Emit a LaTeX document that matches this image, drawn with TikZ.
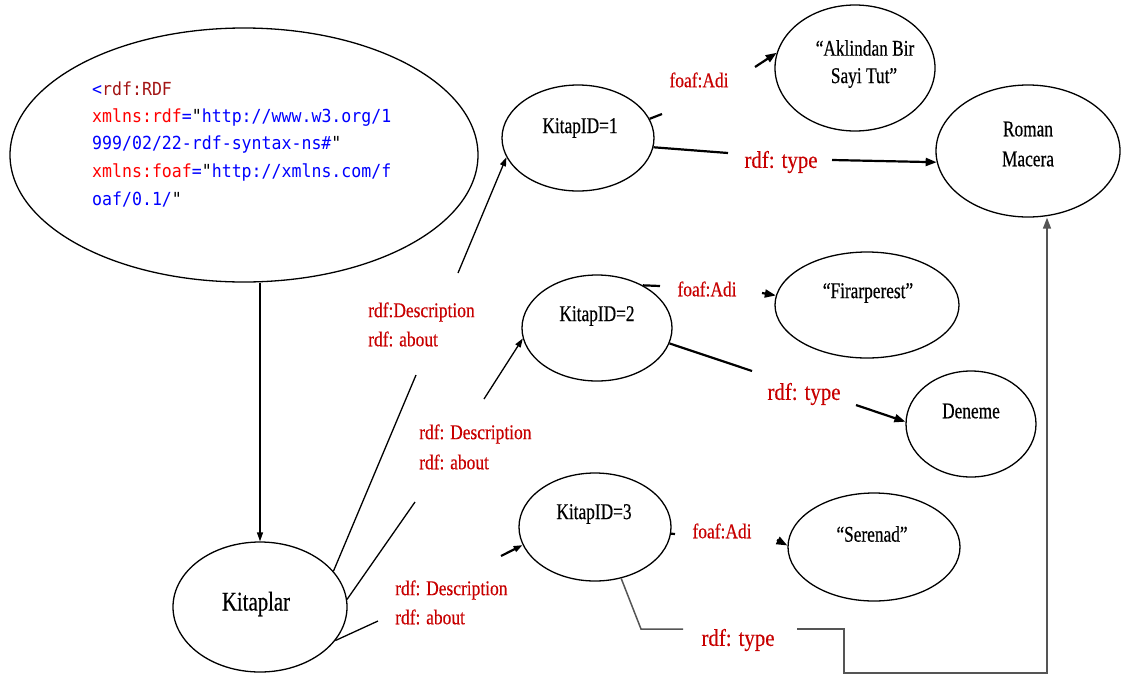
\documentclass[tikz,border=0pt]{standalone}
\usepackage{fontspec}
\usetikzlibrary{arrows.meta,shapes.geometric}
% condensed serif faces for node texts and edge labels
\newfontfamily\serifnode[FakeStretch=0.77,FakeBold=0.4]{Liberation Serif}
\newfontfamily\seriflabel[FakeStretch=0.83,FakeBold=0.3]{Liberation Serif}
\newfontfamily\seriftype[FakeStretch=0.87,FakeBold=0.3]{Liberation Serif}
\newfontfamily\codemono[FakeStretch=0.92]{DejaVu Sans Mono}
\definecolor{lblred}{RGB}{200,0,0}
\definecolor{xmlblue}{RGB}{0,0,255}
\definecolor{xmlred}{RGB}{255,0,0}
\definecolor{xmltag}{RGB}{163,21,21}
\definecolor{pathgray}{RGB}{85,85,85}

\begin{document}
\begin{tikzpicture}[x=1pt,y=-1pt,
  oval/.style={ellipse, draw, line width=1.3pt, inner sep=0pt},
  txt/.style={font=\serifnode\fontsize{22.5}{26}\selectfont, inner sep=0pt},
  bigtxt/.style={font=\serifnode\fontsize{27}{30}\selectfont, inner sep=0pt},
  lbl/.style={font=\seriflabel\fontsize{21}{24}\selectfont, inner sep=0pt, text=lblred},
  typelbl/.style={font=\seriftype\fontsize{24}{28}\selectfont, inner sep=0pt, text=lblred},
  codeln/.style={font=\codemono\fontsize{18}{27}\selectfont, inner sep=0pt, anchor=base west},
  desc/.style={line width=1.3pt},
  prop/.style={line width=2.2pt},
  tip/.style={-{Triangle[length=11pt,width=8pt]}},
  smalltip/.style={-{Triangle[length=9pt,width=6pt]}}
]
\useasboundingbox (0,0) rectangle (1121,678);
\fill[white] (0,0) rectangle (1121,678);

% ---- resources (ellipses) ----
\node[oval, minimum width=468pt, minimum height=254pt] (rdf) at (244,155) {};
\node[oval, minimum width=174pt, minimum height=130pt] (kit) at (260,607) {};
\node[oval, minimum width=152pt, minimum height=106pt] (k1) at (578,138) {};
\node[oval, minimum width=150pt, minimum height=106pt] (k2) at (597,328) {};
\node[oval, minimum width=152pt, minimum height=108pt] (k3) at (595,527) {};
\node[oval, minimum width=160pt, minimum height=126pt] (akl) at (855,68) {};
\node[oval, minimum width=184pt, minimum height=132pt] (roman) at (1028,151) {};
\node[oval, minimum width=184pt, minimum height=106pt] (firar) at (867,305) {};
\node[oval, minimum width=130pt, minimum height=106pt] (deneme) at (971,424) {};
\node[oval, minimum width=172pt, minimum height=108pt] (seren) at (874,547) {};

% ---- RDF header code ----
\node[codeln] (code1) at (92,95) {{\color{xmlblue}<}{\color{xmltag}rdf:RDF}};
\node[codeln] (code2) at (92,122) {{\color{xmlred}xmlns:rdf}{\color{xmlblue}=}"{\color{xmlblue}http://www.w3.org/1}};
\node[codeln] (code3) at (92,149.5) {{\color{xmlblue}999/02/22-rdf-syntax-ns\#}"};
\node[codeln] (code4) at (92,177) {{\color{xmlred}xmlns:foaf}{\color{xmlblue}=}"{\color{xmlblue}http://xmlns.com/f}};
\node[codeln] (code5) at (92,205) {{\color{xmlblue}oaf/0.1/}"};

% ---- node texts ----
\node[bigtxt] (tkit) at (256,604) {Kitaplar};
\node[txt] (tk1) at (580,128) {KitapID=1};
\node[txt] (tk2) at (597,316) {KitapID=2};
\node[txt] (tk3) at (594,514) {KitapID=3};
\node[txt] (takl1) at (865,48) {“Aklindan Bir};
\node[txt] (takl2) at (864,78) {Sayi Tut”};
\node[txt] (trom1) at (1028,129) {Roman};
\node[txt] (trom2) at (1028,159) {Macera};
\node[txt] (tfirar) at (868,293) {“Firarperest”};
\node[txt] (tden) at (971,411) {Deneme};
\node[txt] (tser) at (872,534) {“Serenad”};

% ---- edge labels ----
\node[lbl, anchor=west] (d1a) at (368,312) {rdf:Description};
\node[lbl, anchor=west] (d1b) at (368,339) {rdf: about};
\node[lbl, anchor=west] (d2a) at (419,434) {rdf: Description};
\node[lbl, anchor=west] (d2b) at (419,462) {rdf: about};
\node[lbl, anchor=west] (d3a) at (395,590) {rdf: Description};
\node[lbl, anchor=west] (d3b) at (395,617) {rdf: about};
\node[lbl] (f1) at (699,80) {foaf:Adi};
\node[lbl] (f2) at (707,289) {foaf:Adi};
\node[lbl] (f3) at (722,531) {foaf:Adi};
\node[typelbl] (ty1) at (781,162) {rdf: type};
\node[typelbl] (ty2) at (804,394) {rdf: type};
\node[typelbl] (ty3) at (738,640) {rdf: type};

% ---- free ends of the broken connectors ----
\coordinate (c1a) at (416,375);  \coordinate (c1b) at (458,273);
\coordinate (c2a) at (415,502);  \coordinate (c2b) at (484,399);
\coordinate (c3a) at (378,621);  \coordinate (c3b) at (501,556);
\coordinate (a1s) at (662,114);  \coordinate (a1e) at (755,67);
\coordinate (t1s) at (728,153);  \coordinate (t1e) at (832,160);
\coordinate (a2s) at (660,286);  \coordinate (a2e) at (762,293);
\coordinate (t2s) at (752,371);  \coordinate (t2e) at (856,405);
\coordinate (a3s) at (675,534);  \coordinate (a3e) at (777,540);
\coordinate (p1) at (641,629);   \coordinate (p2) at (683,629);
\coordinate (p3) at (797,629);   \coordinate (p4) at (844,629);
\coordinate (p5) at (844,673);   \coordinate (p6) at (1047,673);

% ---- connectors ----
\draw[desc, smalltip] (kit.north |- rdf.south) -- (kit.north);

\draw[desc] (kit.26) -- (c1a);
\draw[desc, smalltip] (c1b) -- (k1.195);
\draw[desc] (kit.5) -- (c2a);
\draw[desc, smalltip] (c2b) -- (k2.188);
\draw[desc] (kit.-24) -- (c3a);
\draw[prop, smalltip] (c3b) -- (k3.194);

\draw[prop] (k1.15) -- (a1s);
\draw[prop, tip] (a1e) -- (akl.169);
\draw[prop] (k1.-7) -- (t1s);
\draw[prop, tip] (t1e) -- (roman.187);

\draw[prop] (k2.43) -- (a2s);
\draw[prop, tip] (a2e) -- (firar.174);
\draw[prop] (k2.-12) -- (t2s);
\draw[prop, tip] (t2e) -- (deneme.178);

\draw[prop] (k3.-5) -- (a3s);
\draw[prop, tip] (a3e) -- (seren.179);
\draw[line width=1.5pt, pathgray] (k3.-63) -- (p1) -- (p2);
\draw[line width=1.5pt, pathgray, tip] (p3) -- (p4) -- (p5) -- (p6) -- (p6 |- roman.south);
\end{tikzpicture}
\end{document}
